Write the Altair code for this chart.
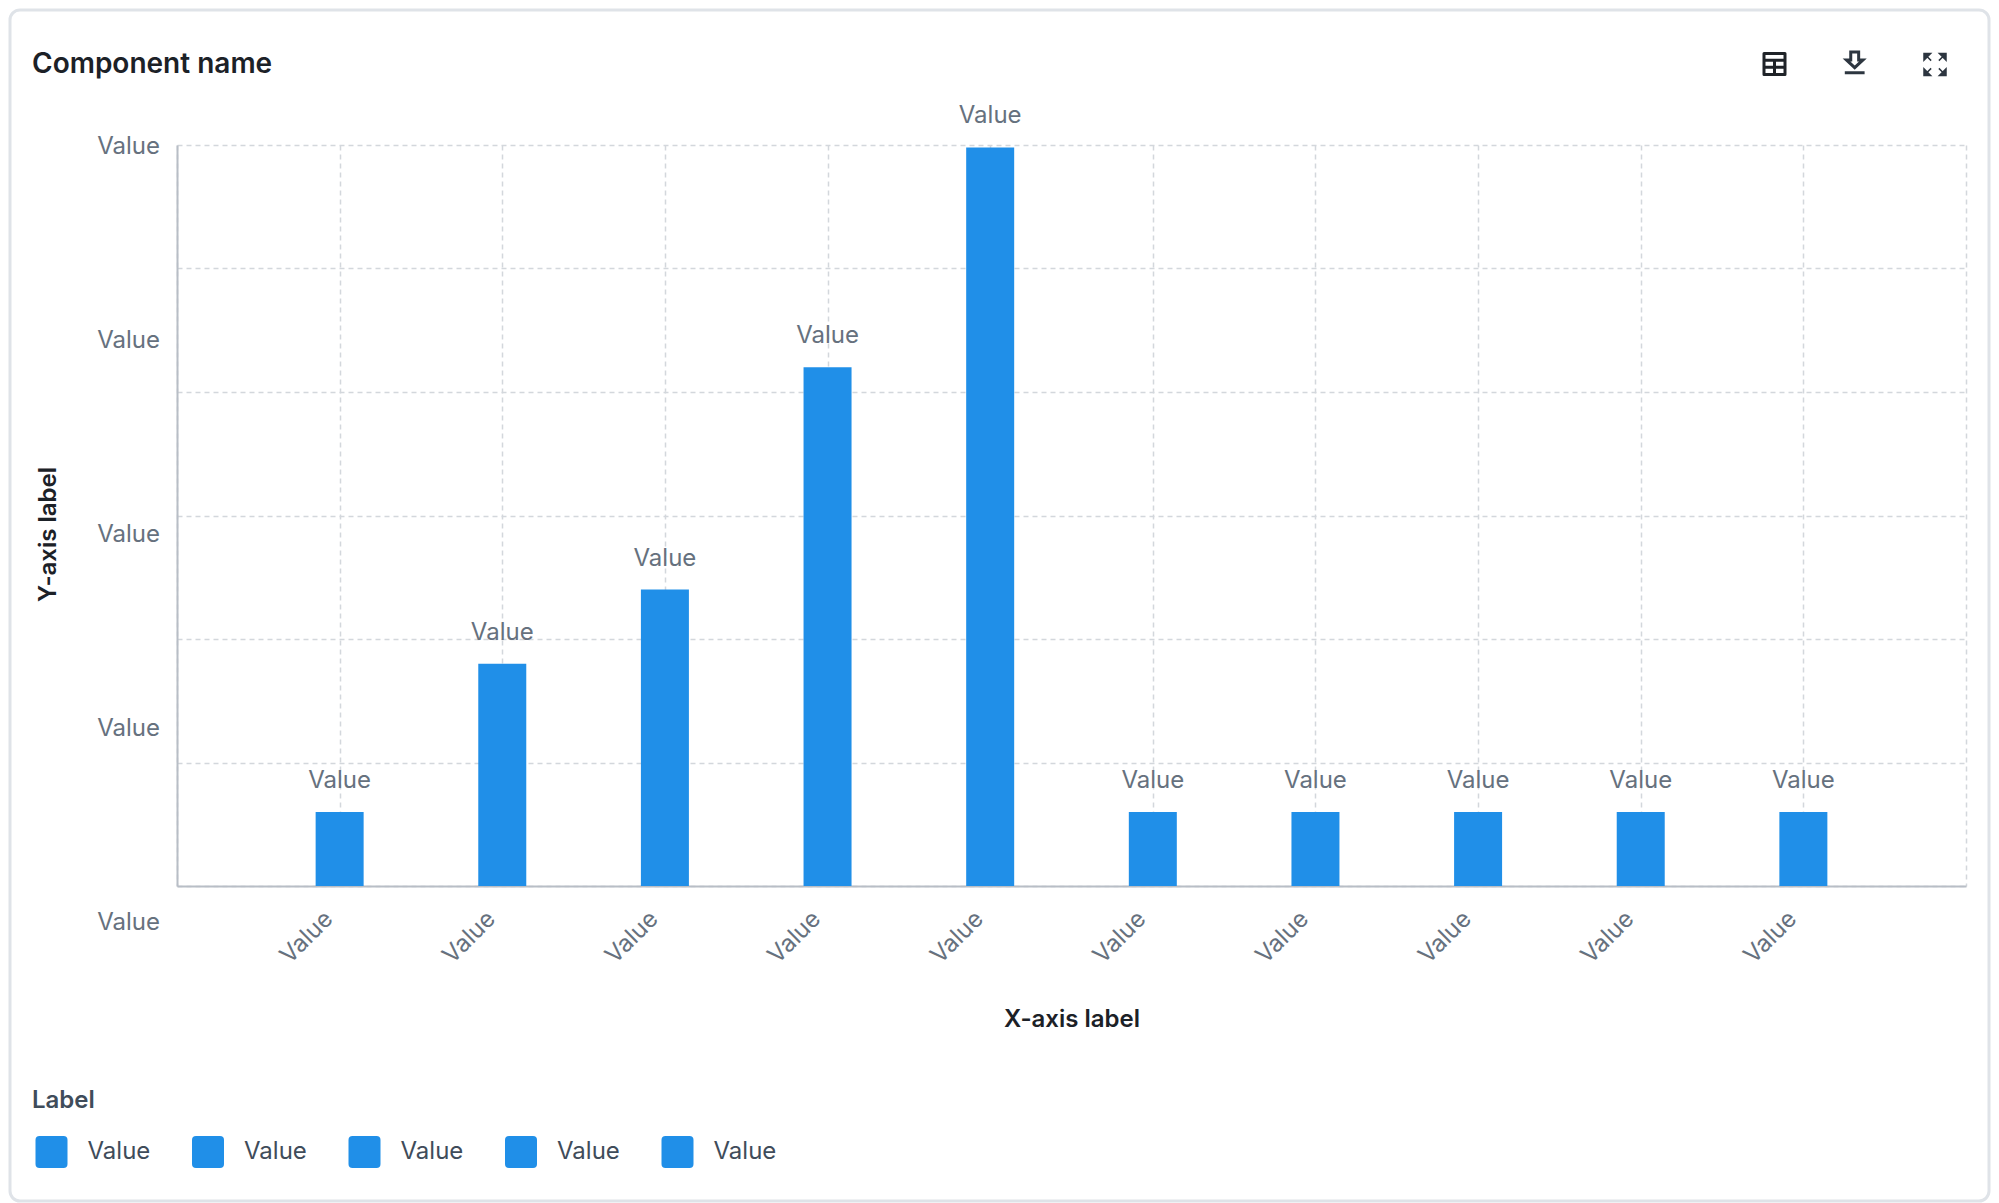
"""Bar chart card: one series, placeholder labels, legend and toolbar icons."""
import pandas as pd
import altair as alt

# data
positions = [1, 2, 3, 4, 5, 6, 7, 8, 9, 10]
values = [60, 180, 240, 420, 598, 60, 60, 60, 60, 60]
bar_labels = ["Value"] * 10
series = ["a", "b", "c", "d", "e", "a", "b", "c", "d", "e"]
legend_domain = ["a", "b", "c", "d", "e"]
y_label_values = [600, 443, 286, 129, -28]
y_label_text = ["Value"] * 5
heading = ["Component name"]

FONT = "Inter"
BLUE = "#208fe8"
GREY = "#66717e"
GRID = "#d3d7dc"
W, H = 1789, 741
LEFT, TOP = 169, 137

df = pd.DataFrame({"x": positions, "y": values, "label": bar_labels, "series": series})
y_df = pd.DataFrame({"y": y_label_values, "label": y_label_text})
one = pd.DataFrame({"a": [0], "heading": heading})

x_scale = alt.Scale(domain=[0, 11], nice=False, zero=False, padding=0)
y_scale = alt.Scale(domain=[0, 600], nice=False)

# the card round everything
card = (
    alt.Chart(one)
    .mark_rect(fill="transparent", stroke="#dfe3e8", strokeWidth=3, cornerRadius=10)
    .encode(
        x=alt.value(-LEFT + 2),
        x2=alt.value(W + 23),
        y=alt.value(-TOP + 2),
        y2=alt.value(H + 315),
    )
)

title_text = (
    alt.Chart(one)
    .mark_text(
        font=FONT,
        fontSize=28,
        fontWeight=600,
        color="#1c2127",
        align="left",
        baseline="middle",
    )
    .encode(x=alt.value(-145), y=alt.value(-80), text="heading:N")
)

bars = (
    alt.Chart(df)
    .mark_bar(size=48)
    .encode(
        x=alt.X(
            "x:Q",
            scale=x_scale,
            axis=alt.Axis(
                values=list(range(12)),
                title="X-axis label",
                titleFont=FONT,
                titleFontSize=24,
                titleFontWeight=600,
                titleColor="#1c2127",
                titleX=W / 2,
                titleY=133,
                titleBaseline="middle",
                labelExpr="datum.value >= 1 && datum.value <= 10 ? 'Value' : ''",
                labelAngle=315,
                labelAlign="right",
                labelBaseline="middle",
                labelPadding=29,
                labelOffset=-11,
                labelFont=FONT,
                labelFontSize=24,
                labelColor=GREY,
                labelOverlap=False,
                ticks=False,
                grid=True,
                gridColor=GRID,
                gridDash=[5, 4],
                gridWidth=1.5,
                domainColor="#b8bec6",
                domainWidth=2,
            ),
        ),
        y=alt.Y(
            "y:Q",
            scale=y_scale,
            axis=alt.Axis(
                values=[0, 100, 200, 300, 400, 500, 600],
                labels=False,
                ticks=False,
                title="Y-axis label",
                titleFont=FONT,
                titleFontSize=24,
                titleFontWeight=600,
                titleColor="#1c2127",
                titleX=-129,
                titleY=389,
                titleBaseline="middle",
                grid=True,
                gridColor=GRID,
                gridDash=[5, 4],
                gridWidth=1.5,
                domainColor="#b8bec6",
                domainWidth=2,
            ),
        ),
        color=alt.Color(
            "series:N",
            scale=alt.Scale(domain=legend_domain, range=[BLUE] * 5),
            legend=alt.Legend(
                orient="none",
                legendX=-145,
                legendY=944,
                direction="horizontal",
                columns=5,
                title="Label",
                titleFont=FONT,
                titleFontSize=24,
                titleFontWeight=600,
                titleColor="#3f4c5a",
                titlePadding=23,
                labelExpr="'Value'",
                labelFont=FONT,
                labelFontSize=24,
                labelColor="#3f4c5a",
                labelOffset=20,
                symbolType="M-1,-0.75Q-1,-1,-0.75,-1H0.75Q1,-1,1,-0.75V0.75Q1,1,0.75,1H-0.75Q-1,1,-1,0.75Z",
                symbolSize=1024,
                symbolStrokeWidth=0,
                symbolOpacity=1,
                symbolOffset=3.5,
                columnPadding=37.5,
                padding=0,
            ),
        ),
    )
)

bar_text = (
    alt.Chart(df)
    .mark_text(font=FONT, fontSize=24, color=GREY, dy=-31, baseline="middle")
    .encode(x=alt.X("x:Q", scale=x_scale), y=alt.Y("y:Q", scale=y_scale), text="label:N")
)

y_text = (
    alt.Chart(y_df)
    .mark_text(font=FONT, fontSize=24, color=GREY, align="right", baseline="middle", dy=2)
    .encode(x=alt.value(-17), y=alt.Y("y:Q", scale=y_scale), text="label:N")
)

# toolbar icons, as paths
table_icon = (
    alt.Chart(one)
    .mark_point(
        shape="M-1,-1H1V1H-1Z M-1,-0.35H1 M-1,0.32H1 M0,-0.35V1",
        size=441,
        filled=False,
        stroke="#1f2328",
        strokeWidth=3,
        strokeJoin="round",
        opacity=1,
    )
    .encode(x=alt.value(1774.5 - 177), y=alt.value(64 - 145))
)
download_icon = (
    alt.Chart(one)
    .mark_point(
        shape="M-0.36,-1H0.36V-0.28H0.75L0,0.42L-0.75,-0.28H-0.36Z M-0.9,0.88H0.9",
        size=484,
        filled=False,
        stroke="#2d3640",
        strokeWidth=3,
        opacity=1,
    )
    .encode(x=alt.value(1854.7 - 177), y=alt.value(63 - 145))
)
expand_icon = (
    alt.Chart(one)
    .mark_point(
        shape=(
            "M-1,-1L-0.4,-1L-1,-0.4Z M-0.75,-0.75L-0.35,-0.35 "
            "M1,-1L0.4,-1L1,-0.4Z M0.75,-0.75L0.35,-0.35 "
            "M-1,1L-0.4,1L-1,0.4Z M-0.75,0.75L-0.35,0.35 "
            "M1,1L0.4,1L1,0.4Z M0.75,0.75L0.35,0.35"
        ),
        size=484,
        filled=True,
        fill="#2d3640",
        stroke="#2d3640",
        strokeWidth=1.5,
        opacity=1,
    )
    .encode(x=alt.value(1935 - 177), y=alt.value(64.5 - 145))
)

chart = (
    alt.layer(card, title_text, bars, bar_text, y_text, table_icon, download_icon, expand_icon)
    .properties(
        width=W,
        height=H,
        padding={"left": LEFT, "top": TOP, "right": 25, "bottom": 317},
        autosize=alt.AutoSizeParams(type="none"),
    )
    .configure_view(stroke=None)
)

chart.save("out.html", embed_options={"renderer": "svg", "actions": False})
